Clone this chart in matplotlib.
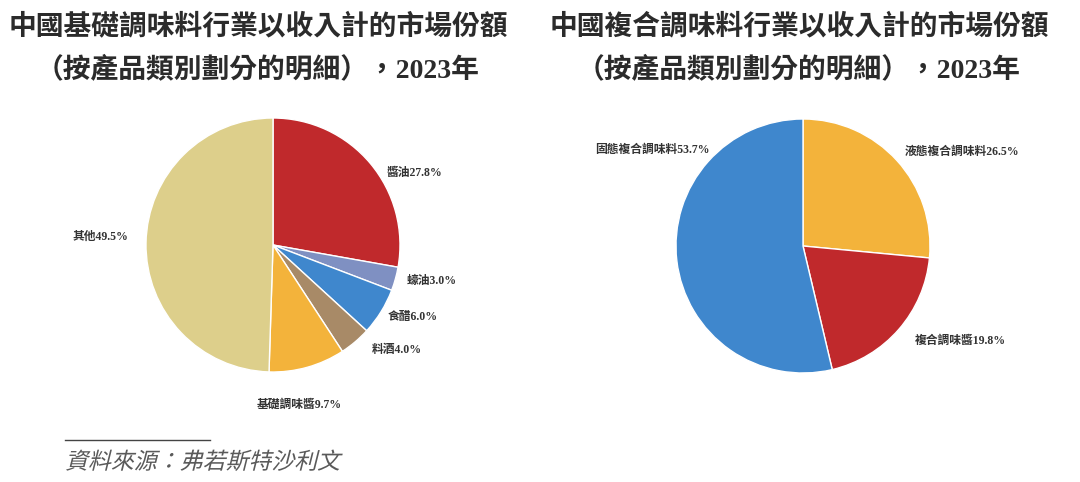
import matplotlib
matplotlib.use("Agg")
import matplotlib.pyplot as plt
import matplotlib.patheffects as pe
from matplotlib.transforms import Affine2D
from matplotlib.lines import Line2D

# ---- data ----
left_title = "中國基礎調味料行業以收入計的市場份額\n（按產品類別劃分的明細），2023年"
left_cats = ["醬油", "蠔油", "食醋", "料酒", "基礎調味醬", "其他"]
left_vals = [27.8, 3.0, 6.0, 4.0, 9.7, 49.5]
left_colors = ["#C0292C", "#7F90C2", "#3F87CD", "#A88A67", "#F3B33B", "#DDCF8B"]

right_title = "中國複合調味料行業以收入計的市場份額\n（按產品類別劃分的明細），2023年"
right_cats = ["液態複合調味料", "複合調味醬", "固態複合調味料"]
right_vals = [26.5, 19.8, 53.7]
right_colors = ["#F3B33B", "#C0292C", "#3F87CD"]

source_text = "資料來源：弗若斯特沙利文"

# ---- layout (label left edge / vertical centre, relative to pie centre in radius units) ----
left_label_pos = [(0.89, 0.57), (1.05, -0.28), (0.90, -0.57), (0.78, -0.83), (-0.13, -1.26), (-1.58, 0.06)]
right_label_pos = [(0.80, 0.74), (0.88, -0.75), (-1.64, 0.76)]

FAM = ["Liberation Serif", "Noto Sans CJK TC", "DejaVu Sans"]
W, H = 1080, 482
fig = plt.figure(figsize=(W / 100, H / 100), dpi=100)
fig.patch.set_facecolor("white")

R = 127


def pie_axes(cx, cy):
    return fig.add_axes([(cx - R) / W, (H - cy - R) / H, 2 * R / W, 2 * R / H])


def draw_pie(ax, vals, cats, colors, pos):
    ax.pie(vals, colors=colors, startangle=90, counterclock=False, radius=1,
           wedgeprops=dict(edgecolor="white", linewidth=1.0))
    ax.set_xlim(-1, 1)
    ax.set_ylim(-1, 1)
    ax.set_aspect("auto")
    ax.axis("off")
    for c, v, (x, y) in zip(cats, vals, pos):
        ax.text(x, y, f"{c}{v:.1f}%", ha="left", va="center", fontsize=8.5,
                family=FAM, fontweight="bold", color="#333333", clip_on=False)


ax1 = pie_axes(273, 245)
draw_pie(ax1, left_vals, left_cats, left_colors, left_label_pos)
ax2 = pie_axes(803, 246)
draw_pie(ax2, right_vals, right_cats, right_colors, right_label_pos)

# titles
fig.text(258 / W, 1 - 48 / H, left_title, ha="center", va="center", fontsize=20,
         family=FAM, fontweight="bold", color="#2b2b2b", linespacing=1.75)
fig.text(799 / W, 1 - 48 / H, right_title, ha="center", va="center", fontsize=20,
         family=FAM, fontweight="bold", color="#2b2b2b", linespacing=1.75)


class Italic(pe.AbstractPathEffect):
    def __init__(self, deg=14):
        super().__init__()
        self.deg = deg

    def draw_path(self, renderer, gc, tpath, affine, rgbFace=None):
        renderer.draw_path(gc, tpath, Affine2D().skew_deg(self.deg, 0) + affine, rgbFace)


# source
fig.add_artist(Line2D([65 / W, 210 / W], [1 - 440 / H, 1 - 440 / H], color="#444444", linewidth=1.0))
fig.text(65 / W, 1 - 463 / H, source_text, ha="left", va="center", fontsize=16.5,
         family=FAM, color="#5a5a5a", path_effects=[Italic(14)])

fig.savefig("out.png", dpi=100, facecolor="white")
